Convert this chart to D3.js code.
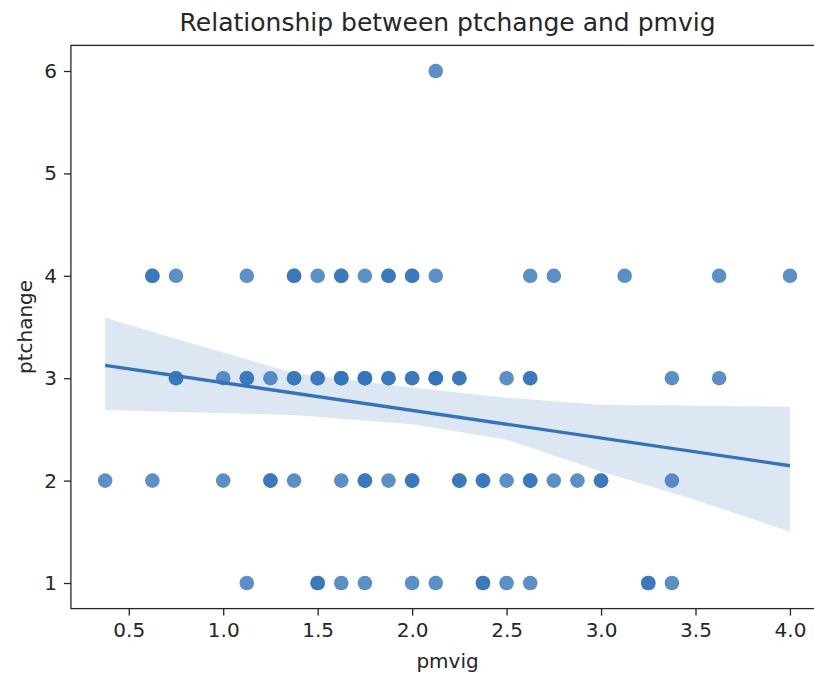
<!DOCTYPE html>
<html>
<head>
<meta charset="utf-8">
<script src="https://cdn.jsdelivr.net/npm/d3@7"></script>
<style>
  html, body { margin: 0; padding: 0; background: #fff; }
  text { font-family: "DejaVu Sans", sans-serif; fill: #262626; }
</style>
</head>
<body>
<svg id="chart" width="814" height="677"></svg>
<script>
// ---- data ----
const pmvig = [
  // ptchange = 4
  0.625, 0.625, 0.75, 1.125, 1.375, 1.375, 1.5, 1.625, 1.625, 1.75, 1.875, 1.875, 2.0, 2.0, 2.125, 2.625, 2.75, 3.125, 3.625, 4.0,
  // ptchange = 3
  0.75, 0.75, 1.0, 1.125, 1.125, 1.25, 1.375, 1.375, 1.5, 1.5, 1.625, 1.625, 1.625, 1.75, 1.75, 1.75, 1.875, 1.875, 2.0, 2.0, 2.125, 2.125, 2.125, 2.25, 2.25, 2.5, 2.625, 2.625, 3.375, 3.625,
  // ptchange = 2
  0.375, 0.625, 1.0, 1.25, 1.25, 1.375, 1.625, 1.75, 1.75, 1.875, 2.0, 2.0, 2.25, 2.25, 2.375, 2.375, 2.5, 2.625, 2.625, 2.75, 2.875, 3.0, 3.0, 3.375,
  // ptchange = 1
  1.125, 1.5, 1.5, 1.625, 1.75, 2.0, 2.125, 2.375, 2.375, 2.5, 2.625, 3.25, 3.25, 3.375,
  // ptchange = 6
  2.125
];
const ptchange = [
  4,4,4,4,4,4,4,4,4,4,4,4,4,4,4,4,4,4,4,4,
  3,3,3,3,3,3,3,3,3,3,3,3,3,3,3,3,3,3,3,3,3,3,3,3,3,3,3,3,3,3,
  2,2,2,2,2,2,2,2,2,2,2,2,2,2,2,2,2,2,2,2,2,2,2,2,
  1,1,1,1,1,1,1,1,1,1,1,1,1,1,
  6
];
// regression fit line
const fitX = [0.375, 4.0];
const fitY = [3.125, 2.145];
// confidence band
const ciX  = [0.375, 0.75, 1.375, 2.0, 2.5, 3.0, 3.5, 4.0];
const ciLo = [2.69, 2.67, 2.64, 2.55, 2.40, 2.09, 1.81, 1.50];
const ciHi = [3.59, 3.385, 3.05, 2.91, 2.81, 2.74, 2.73, 2.72];

const xTicks = [0.5, 1.0, 1.5, 2.0, 2.5, 3.0, 3.5, 4.0];
const yTicks = [1, 2, 3, 4, 5, 6];

const title = "Relationship between ptchange and pmvig";
const xLabel = "pmvig";
const yLabel = "ptchange";

// ---- drawing ----
const svg = d3.select("#chart");
const L = 70.9, R = 824.2, T = 45.4, B = 608.6;
const color = "#3573b9";

const x = d3.scaleLinear().domain([0.19375, 4.18125]).range([L, R]);
const y = d3.scaleLinear().domain([0.75, 6.25]).range([B, T]);

const g = svg.append("g");

// CI band
const band = ciX.map((v, i) => ({x: v, lo: ciLo[i], hi: ciHi[i]}));
g.append("path")
  .datum(band)
  .attr("fill", color)
  .attr("fill-opacity", 0.17)
  .attr("d", d3.area().x(d => x(d.x)).y0(d => y(d.lo)).y1(d => y(d.hi)));

// points
const pts = pmvig.map((v, i) => ({x: v, y: ptchange[i]}));
g.selectAll("circle.pt").data(pts).enter().append("circle")
  .attr("class", "pt")
  .attr("cx", d => x(d.x))
  .attr("cy", d => y(d.y))
  .attr("r", 7.3)
  .attr("fill", color)
  .attr("fill-opacity", 0.8);

// fit line
g.append("path")
  .datum(fitX.map((v, i) => ({x: v, y: fitY[i]})))
  .attr("fill", "none")
  .attr("stroke", color)
  .attr("stroke-width", 3.3)
  .attr("d", d3.line().x(d => x(d.x)).y(d => y(d.y)));

// axes
const xAxis = d3.axisBottom(x).tickValues(xTicks).tickFormat(d3.format(".1f")).tickSize(7).tickPadding(7);
const yAxis = d3.axisLeft(y).tickValues(yTicks).tickFormat(d3.format("d")).tickSize(7).tickPadding(7);

const gx = svg.append("g").attr("transform", `translate(0,${B})`).call(xAxis);
const gy = svg.append("g").attr("transform", `translate(${L},0)`).call(yAxis);
[gx, gy].forEach(a => {
  a.select(".domain").remove();
  a.selectAll(".tick line").attr("stroke", "#262626").attr("stroke-width", 1.3);
  a.selectAll(".tick text").attr("font-size", "20px").attr("fill", "#262626")
    .style("font-family", "'DejaVu Sans', sans-serif");
});

// spines
svg.append("rect")
  .attr("x", L).attr("y", T).attr("width", R - L).attr("height", B - T)
  .attr("fill", "none").attr("stroke", "#262626").attr("stroke-width", 1.3);

// title and labels
const cx = (L + R) / 2;
svg.append("text").attr("x", cx).attr("y", 31).attr("text-anchor", "middle")
  .attr("font-size", "25px").text(title);
svg.append("text").attr("x", cx).attr("y", 668).attr("text-anchor", "middle")
  .attr("font-size", "20px").text(xLabel);
svg.append("text").attr("transform", `translate(32,${(T + B) / 2}) rotate(-90)`)
  .attr("text-anchor", "middle").attr("font-size", "20px").text(yLabel);
</script>
</body>
</html>
